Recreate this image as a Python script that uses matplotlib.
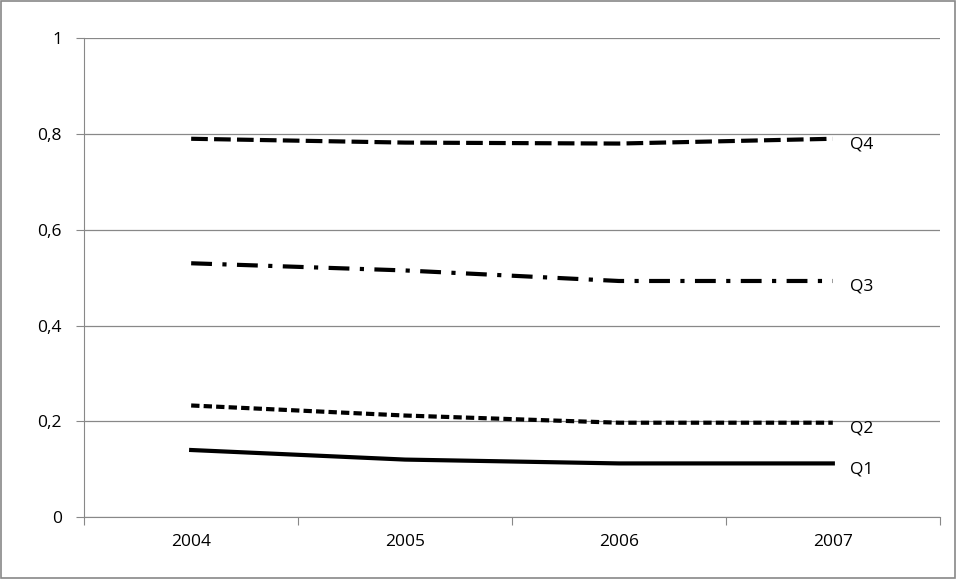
import matplotlib.pyplot as plt
from matplotlib.ticker import FuncFormatter

years = ['2004', '2005', '2006', '2007']
q1 = [0.140, 0.120, 0.112, 0.112]
q2 = [0.233, 0.212, 0.197, 0.197]
q3 = [0.530, 0.515, 0.493, 0.493]
q4 = [0.790, 0.782, 0.780, 0.790]
names = ['Q1', 'Q2', 'Q3', 'Q4']

plt.rcParams['font.family'] = ['Open Sans', 'DejaVu Sans']
fig = plt.figure(figsize=(9.57, 5.79), dpi=100)
fig.patches.append(plt.Rectangle((0.001, 0.001), 0.997, 0.997, transform=fig.transFigure,
                                 fill=False, edgecolor='#888888', linewidth=1.2))
ax = fig.add_axes([0.088, 0.107, 0.894, 0.827])

x = [0.5, 1.5, 2.5, 3.5]
styles = [dict(linestyle='-'), dict(linestyle=(0, (2, 1))),
          dict(linestyle=(0, (5, 2.5, 1, 2.5))), dict(linestyle=(0, (4, 1.5)))]
for s, st, n in zip([q1, q2, q3, q4], styles, names):
    ax.plot(x, s, color='black', linewidth=3, **st)
    ax.text(3.58, s[-1] - 0.012, n, fontsize=12.5, va='center', ha='left')

ax.set_xlim(0, 4)
ax.set_ylim(0, 1)
ax.set_yticks([0, 0.2, 0.4, 0.6, 0.8, 1])
ax.yaxis.set_major_formatter(FuncFormatter(lambda v, p: ('%g' % v).replace('.', ',')))
ax.set_xticks([0, 1, 2, 3, 4])
ax.set_xticklabels([])
ax.set_xticks(x, minor=True)
ax.set_xticklabels(years, minor=True)
ax.tick_params(axis='x', which='minor', length=0, labelsize=12.5, pad=12)
ax.tick_params(axis='x', which='major', length=6, color='#888888')
ax.tick_params(axis='y', length=6, color='#888888', labelsize=12.5, pad=10)
ax.grid(axis='y', color='#888888', linewidth=0.9)
for sp in ['top', 'right']:
    ax.spines[sp].set_visible(False)
for sp in ['left', 'bottom']:
    ax.spines[sp].set_color('#888888')
ax.set_axisbelow(True)

fig.savefig('out.png')
